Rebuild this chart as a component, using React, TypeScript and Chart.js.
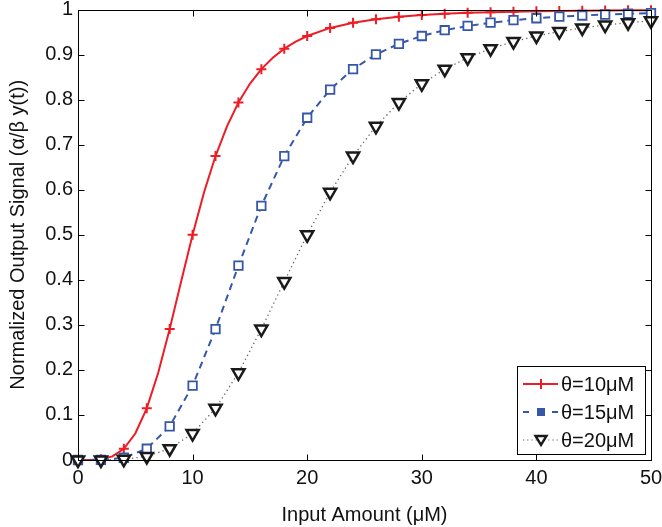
import React, { useEffect, useRef } from "react";
import { Chart, registerables } from "chart.js";

Chart.register(...registerables);

// ---- data ----
const redX = [0, 1, 2, 3, 4, 5, 6, 7, 8, 9, 10, 11, 12, 13, 14, 15, 16, 17, 18, 19, 20, 22, 24, 26, 28, 30, 32, 34, 36, 38, 40, 42, 44, 46, 48, 50];
const redY = [0, 0.0001, 0.0016, 0.008, 0.0249, 0.0588, 0.1147, 0.1936, 0.2906, 0.3962, 0.5, 0.5942, 0.6747, 0.7407, 0.7935, 0.8351, 0.8676, 0.893, 0.913, 0.9287, 0.9412, 0.9591, 0.9707, 0.9786, 0.984, 0.9878, 0.9906, 0.9926, 0.9941, 0.9952, 0.9961, 0.9968, 0.9973, 0.9978, 0.9981, 0.9984];
const markX = [0, 2, 4, 6, 8, 10, 12, 14, 16, 18, 20, 22, 24, 26, 28, 30, 32, 34, 36, 38, 40, 42, 44, 46, 48, 50];
const blueY = [0, 0.0003, 0.005, 0.025, 0.0748, 0.165, 0.2906, 0.4314, 0.5642, 0.6746, 0.7597, 0.8223, 0.8676, 0.9003, 0.9239, 0.9412, 0.954, 0.9635, 0.9707, 0.9763, 0.9806, 0.984, 0.9867, 0.9888, 0.9906, 0.992];
const blackY = [0, 0.0001, 0.0016, 0.008, 0.025, 0.0588, 0.1147, 0.1936, 0.2906, 0.3962, 0.5, 0.5942, 0.6747, 0.7407, 0.7935, 0.8351, 0.8676, 0.893, 0.913, 0.9287, 0.9412, 0.9511, 0.9591, 0.9655, 0.9707, 0.975];
const seriesLabels = ["θ=10μM", "θ=15μM", "θ=20μM"];
const xTicks = [0, 10, 20, 30, 40, 50];
const yTicks = [0, 0.1, 0.2, 0.3, 0.4, 0.5, 0.6, 0.7, 0.8, 0.9, 1];
const yTickLabels = ["0", "0.1", "0.2", "0.3", "0.4", "0.5", "0.6", "0.7", "0.8", "0.9", "1"];
const xTitle = "Input Amount (μM)";
const yTitle = "Normalized Output Signal (α/β y(t))";

const RED = "#ee1c25";
const BLUE = "#3656a8";
const BLACK = "#1a1a1a";
const DOT = "#666666";
const FONT = "'Liberation Sans', Arial, Helvetica, sans-serif";

const frameLegendPlugin = {
  id: "frameLegend",
  afterDraw(chart: any) {
    const { ctx, chartArea } = chart;
    const { left, right, top, bottom } = chartArea;
    const xs = chart.scales.x;
    const ys = chart.scales.y;
    ctx.save();
    ctx.strokeStyle = "#000";
    ctx.lineWidth = 1;
    ctx.setLineDash([]);
    const L = Math.round(left) + 0.5, R = Math.round(right) + 0.5, T = Math.round(top) + 0.5, B = Math.round(bottom) + 0.5;
    ctx.strokeRect(L, T, R - L, B - T);
    ctx.beginPath();
    for (const v of xTicks) {
      const px = Math.round(xs.getPixelForValue(v)) + 0.5;
      ctx.moveTo(px, B); ctx.lineTo(px, B - 6);
      ctx.moveTo(px, T); ctx.lineTo(px, T + 6);
    }
    for (const v of yTicks) {
      const py = Math.round(ys.getPixelForValue(v)) + 0.5;
      ctx.moveTo(L, py); ctx.lineTo(L + 6, py);
      ctx.moveTo(R, py); ctx.lineTo(R - 6, py);
    }
    ctx.stroke();

    // legend box
    const bx = 517.5, by = 366.5, bw = 128, bh = 88;
    ctx.fillStyle = "#fff";
    ctx.fillRect(bx, by, bw, bh);
    ctx.strokeRect(bx, by, bw, bh);
    const rows = [384, 412, 440];
    const lx0 = 523, lx1 = 558, mx = 541;
    ctx.font = `20px ${FONT}`;
    ctx.textBaseline = "middle";
    ctx.textAlign = "left";
    rows.forEach((ry, i) => {
      ctx.save();
      if (i === 0) {
        ctx.strokeStyle = RED; ctx.lineWidth = 2; ctx.setLineDash([]);
        ctx.beginPath(); ctx.moveTo(lx0, ry); ctx.lineTo(lx1, ry); ctx.stroke();
        ctx.beginPath(); ctx.moveTo(mx - 5, ry); ctx.lineTo(mx + 5, ry); ctx.moveTo(mx, ry - 5); ctx.lineTo(mx, ry + 5); ctx.stroke();
      } else if (i === 1) {
        ctx.strokeStyle = BLUE; ctx.lineWidth = 2; ctx.setLineDash([]);
        ctx.beginPath(); ctx.moveTo(lx0, ry); ctx.lineTo(lx0 + 6, ry); ctx.moveTo(lx1 - 6, ry); ctx.lineTo(lx1, ry); ctx.stroke();
        ctx.fillStyle = BLUE;
        ctx.fillRect(mx - 4, ry - 4, 8, 8);
      } else {
        ctx.strokeStyle = DOT; ctx.lineWidth = 1.2; ctx.setLineDash([1.2, 3]);
        ctx.beginPath(); ctx.moveTo(lx0, ry); ctx.lineTo(lx1, ry); ctx.stroke();
        ctx.setLineDash([]);
        ctx.strokeStyle = BLACK; ctx.lineWidth = 2.4; ctx.fillStyle = "#fff";
        ctx.beginPath(); ctx.moveTo(mx - 5.5, ry - 4); ctx.lineTo(mx + 5.5, ry - 4); ctx.lineTo(mx, ry + 5); ctx.closePath(); ctx.fill(); ctx.stroke();
      }
      ctx.restore();
      ctx.fillStyle = "#111";
      ctx.fillText(seriesLabels[i], 561, ry + 1);
    });
    ctx.restore();
  },
};

export default function App() {
  const ref = useRef<HTMLCanvasElement | null>(null);
  useEffect(() => {
    document.body.style.margin = "0";
    const canvas = ref.current!;
    const redRadius = redX.map((v) => (v % 2 === 0 ? 5 : 0));
    const chart = new Chart(canvas, {
      type: "line",
      data: {
        datasets: [
          {
            label: seriesLabels[2],
            data: markX.map((x, i) => ({ x, y: blackY[i] })),
            borderColor: DOT,
            borderWidth: 1.3,
            borderDash: [1.3, 3.2],
            pointStyle: "triangle",
            pointRotation: 180,
            pointRadius: 7,
            pointBorderWidth: 2.5,
            pointBorderColor: BLACK,
            pointBackgroundColor: "#fff",
            tension: 0,
            clip: false,
            order: 0,
          } as any,
          {
            label: seriesLabels[1],
            data: markX.map((x, i) => ({ x, y: blueY[i] })),
            borderColor: BLUE,
            borderWidth: 2,
            borderDash: [7, 5],
            pointStyle: "rect",
            pointRadius: 6,
            pointBorderWidth: 1.8,
            pointBorderColor: BLUE,
            pointBackgroundColor: "#fff",
            tension: 0,
            clip: false,
            order: 1,
          } as any,
          {
            label: seriesLabels[0],
            data: redX.map((x, i) => ({ x, y: redY[i] })),
            borderColor: RED,
            borderWidth: 2,
            pointStyle: "cross",
            pointRadius: redRadius,
            pointBorderWidth: 2,
            pointBorderColor: RED,
            tension: 0,
            clip: false,
            order: 2,
          } as any,
        ],
      },
      options: {
        animation: false,
        responsive: false,
        layout: { padding: { top: 6, right: 11, left: 0, bottom: 0 } },
        plugins: { legend: { display: false }, tooltip: { enabled: false } },
        scales: {
          x: {
            type: "linear",
            min: 0,
            max: 50,
            afterBuildTicks: (s: any) => { s.ticks = xTicks.map((v) => ({ value: v })); },
            afterFit: (s: any) => { s.height = 67; s.paddingLeft = 0; s.paddingRight = 0; },
            grid: { display: false, drawTicks: false },
            border: { display: false },
            ticks: { font: { family: FONT, size: 20 }, color: "#111", padding: 6, maxRotation: 0 },
            title: { display: true, text: xTitle, font: { family: FONT, size: 20 }, color: "#111", padding: { top: 5, bottom: 0 } },
          },
          y: {
            type: "linear",
            min: 0,
            max: 1,
            afterBuildTicks: (s: any) => { s.ticks = yTicks.map((v) => ({ value: v })); },
            afterFit: (s: any) => { s.width = 78; s.paddingTop = 0; s.paddingBottom = 0; },
            grid: { display: false, drawTicks: false },
            border: { display: false },
            ticks: {
              font: { family: FONT, size: 20 },
              color: "#111",
              padding: 5,
              callback: (_v: any, i: number) => yTickLabels[i],
            },
            title: { display: true, text: yTitle, font: { family: FONT, size: 20 }, color: "#111", padding: { top: 6, bottom: 0 } },
          },
        },
      },
      plugins: [frameLegendPlugin],
    });
    return () => chart.destroy();
  }, []);
  return <canvas ref={ref} width={662} height={527} style={{ display: "block" }} />;
}
